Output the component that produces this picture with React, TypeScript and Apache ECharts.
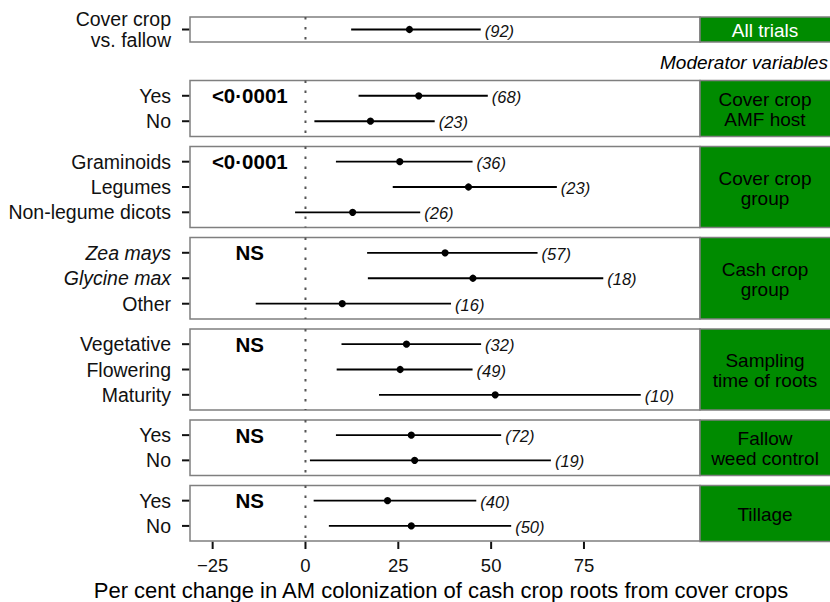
import React, { useEffect, useRef } from "react";
import * as echarts from "echarts";

// ---------- data ----------
const panelTitles = [
  "All trials",
  "Cover crop\nAMF host",
  "Cover crop\ngroup",
  "Cash crop\ngroup",
  "Sampling\ntime of roots",
  "Fallow\nweed control",
  "Tillage",
];
const rowLabels = [
  ["Cover crop\nvs. fallow"],
  ["Yes", "No"],
  ["Graminoids", "Legumes", "Non-legume dicots"],
  ["Zea mays", "Glycine max", "Other"],
  ["Vegetative", "Flowering", "Maturity"],
  ["Yes", "No"],
  ["Yes", "No"],
];
const italicLabels = ["Zea mays", "Glycine max"];
const pValues = ["", "<0·0001", "<0·0001", "NS", "NS", "NS", "NS"];
const means = [[28.0], [30.5, 17.5], [25.4, 43.9, 12.7], [37.6, 45.1, 9.9], [27.2, 25.5, 51.1], [28.5, 29.4], [22.1, 28.5]];
const lower = [[12.3], [14.3, 2.4], [8.2, 23.5, -2.8], [16.6, 16.8, -13.4], [9.7, 8.4, 19.8], [8.2, 1.2], [2.2, 6.3]];
const upper = [[47.2], [49.1, 34.8], [45.0, 67.7, 30.9], [62.5, 80.2, 39.2], [47.3, 45.0, 90.3], [52.7, 66.1], [46.0, 55.4]];
const trialCounts = [[92], [68, 23], [36, 23, 26], [57, 18, 16], [32, 49, 10], [72, 19], [40, 50]];
const xTicks = [-25, 0, 25, 50, 75];
const xTitle = "Per cent change in AM colonization of cash crop roots from cover crops";
const moderatorTitle = "Moderator variables";

// ---------- layout ----------
const FONT = '"Liberation Sans", Arial, Helvetica, sans-serif';
const X_MIN = -31.1;
const X_MAX = 106.25;
const PLOT_LEFT = 190;
const PLOT_RIGHT = 700;
const STRIP_RIGHT = 832;
const TICK_LEN = 8;
const panelTops = [17, 80.5, 146.5, 237.5, 329, 420, 485.5];
const panelBottoms = [42, 136.5, 227.5, 319, 410, 475.5, 541.5];
const P_LABEL_X = -15;
const BORDER = "#7f7f7f";
const GREEN = "#008B00";
const INK = "#111";

// the grids extend TICK_LEN px past the panel frame so tick marks are drawn inside them
const X_PER_PX = (X_MAX - X_MIN) / (PLOT_RIGHT - PLOT_LEFT);
const X_AXIS_MIN = X_MIN - TICK_LEN * X_PER_PX;

function yRange(n: number) {
  return n === 1 ? [-0.5, 0.5] : [-0.6, n - 0.4];
}

function buildOption() {
  const grids: any[] = [];
  const xAxes: any[] = [];
  const yAxes: any[] = [];
  const series: any[] = [];
  const graphics: any[] = [];
  const nPanels = panelTitles.length;

  for (let p = 0; p < nPanels; p++) {
    const n = rowLabels[p].length;
    const [yMin, yMax] = yRange(n);
    const top = panelTops[p];
    const height = panelBottoms[p] - top;
    const isLast = p === nPanels - 1;
    const rowsIdx = rowLabels[p].map((_, i) => i);
    const yPerPx = (yMax - yMin) / height;
    const yAxisMax = isLast ? yMax + TICK_LEN * yPerPx : yMax;
    const gridHeight = isLast ? height + TICK_LEN : height;

    grids.push({
      left: PLOT_LEFT - TICK_LEN,
      top,
      width: PLOT_RIGHT - PLOT_LEFT + TICK_LEN,
      height: gridHeight,
      show: false,
    });

    xAxes.push({
      type: "value",
      gridIndex: p,
      min: X_AXIS_MIN,
      max: X_MAX,
      show: isLast,
      splitLine: { show: false },
      axisLine: { show: false, onZero: false },
      axisTick: { show: false },
      axisLabel: {
        show: isLast,
        customValues: xTicks,
        margin: 7,
        fontSize: 18.5,
        fontFamily: FONT,
        color: INK,
        formatter: (v: number) => (v < 0 ? "\u2212" + Math.abs(v) : String(v)),
      },
      name: isLast ? xTitle : "",
      nameLocation: "middle",
      nameGap: 30,
      nameTextStyle: { fontSize: 22, fontFamily: FONT, color: "#000" },
    });

    yAxes.push({
      type: "value",
      gridIndex: p,
      inverse: true,
      min: yMin,
      max: yAxisMax,
      splitLine: { show: false },
      axisLine: { show: false, onZero: false },
      axisTick: { show: false },
      axisLabel: {
        show: true,
        customValues: rowsIdx,
        margin: 11,
        fontSize: 19.5,
        fontFamily: FONT,
        color: INK,
        lineHeight: 21,
        align: "right",
        formatter: (v: number) => {
          const lab = rowLabels[p][Math.round(v)] ?? "";
          return italicLabels.includes(lab) ? `{i|${lab}}` : lab;
        },
        rich: {
          i: { fontStyle: "italic", fontSize: 19.5, fontFamily: FONT, color: INK },
        },
      },
    });

    // panel frame
    series.push({
      type: "custom",
      xAxisIndex: p,
      yAxisIndex: p,
      clip: false,
      silent: true,
      z: 0,
      data: [[X_MIN, yMin, X_MAX, yMax]],
      renderItem: (params: any, api: any) => {
        const a = api.coord([api.value(0), api.value(1)]);
        const b = api.coord([api.value(2), api.value(3)]);
        return {
          type: "rect",
          shape: { x: a[0], y: a[1], width: b[0] - a[0], height: b[1] - a[1] },
          style: { fill: "#fff", stroke: BORDER, lineWidth: 1.5 },
        };
      },
    });

    // y tick marks (left of the frame)
    series.push({
      type: "custom",
      xAxisIndex: p,
      yAxisIndex: p,
      clip: false,
      silent: true,
      z: 5,
      data: rowsIdx.map((i) => [X_AXIS_MIN, X_MIN, i]),
      renderItem: (params: any, api: any) => {
        const a = api.coord([api.value(0), api.value(2)]);
        const b = api.coord([api.value(1), api.value(2)]);
        return {
          type: "line",
          shape: { x1: a[0], y1: a[1], x2: b[0] - 0.75, y2: b[1] },
          style: { stroke: INK, lineWidth: 2 },
        };
      },
    });

    // x tick marks (below the last frame)
    if (isLast) {
      series.push({
        type: "custom",
        xAxisIndex: p,
        yAxisIndex: p,
        clip: false,
        silent: true,
        z: 5,
        data: xTicks.map((v) => [v, yMax, yAxisMax]),
        renderItem: (params: any, api: any) => {
          const a = api.coord([api.value(0), api.value(1)]);
          const b = api.coord([api.value(0), api.value(2)]);
          return {
            type: "line",
            shape: { x1: a[0], y1: a[1] + 0.75, x2: b[0], y2: b[1] },
            style: { stroke: INK, lineWidth: 2 },
          };
        },
      });
    }

    // dotted zero line
    series.push({
      type: "line",
      xAxisIndex: p,
      yAxisIndex: p,
      data: [
        [0, yMin],
        [0, yMax],
      ],
      symbol: "none",
      silent: true,
      z: 1,
      lineStyle: { color: "#555", width: 2, type: [2.5, 7.5] },
    });

    // estimates with CIs
    series.push({
      type: "custom",
      xAxisIndex: p,
      yAxisIndex: p,
      z: 3,
      data: rowLabels[p].map((_, i) => [lower[p][i], means[p][i], upper[p][i], i, trialCounts[p][i]]),
      encode: { x: [0, 1, 2], y: 3 },
      renderItem: (params: any, api: any) => {
        const y = api.value(3);
        const lo = api.coord([api.value(0), y]);
        const mid = api.coord([api.value(1), y]);
        const hi = api.coord([api.value(2), y]);
        return {
          type: "group",
          children: [
            {
              type: "line",
              shape: { x1: lo[0], y1: lo[1], x2: hi[0], y2: hi[1] },
              style: { stroke: "#000", lineWidth: 1.8 },
            },
            {
              type: "circle",
              shape: { cx: mid[0], cy: mid[1], r: 3.6 },
              style: { fill: "#000" },
            },
            {
              type: "text",
              x: hi[0] + 4,
              y: hi[1] + 1,
              style: {
                text: "(" + api.value(4) + ")",
                fontSize: 16.5,
                fontStyle: "italic",
                fontFamily: FONT,
                fill: INK,
                align: "left",
                verticalAlign: "middle",
              },
            },
          ],
        };
      },
    });

    // p-value label
    if (pValues[p]) {
      series.push({
        type: "scatter",
        xAxisIndex: p,
        yAxisIndex: p,
        data: [[P_LABEL_X, 0]],
        symbolSize: 0,
        silent: true,
        z: 4,
        itemStyle: { opacity: 1 },
        label: {
          show: true,
          position: "inside",
          formatter: pValues[p],
          fontSize: 20.5,
          fontWeight: "bold",
          fontFamily: FONT,
          color: "#000",
          opacity: 1,
          textBorderWidth: 0,
          textBorderColor: "transparent",
        },
      });
    }

    // facet strip
    graphics.push({
      type: "rect",
      shape: { x: PLOT_RIGHT, y: top, width: STRIP_RIGHT - PLOT_RIGHT, height },
      style: { fill: GREEN, stroke: BORDER, lineWidth: 1.5 },
      z: 10,
    });
    graphics.push({
      type: "text",
      x: 765,
      y: top + height / 2 + 1,
      style: {
        text: panelTitles[p],
        fontSize: 19,
        fontFamily: FONT,
        fill: p === 0 ? "#fff" : "#000",
        align: "center",
        verticalAlign: "middle",
        lineHeight: 20,
      },
      z: 11,
    });
  }

  graphics.push({
    type: "text",
    x: 660,
    y: 62,
    style: {
      text: moderatorTitle,
      fontSize: 19,
      fontStyle: "italic",
      fontFamily: FONT,
      fill: "#000",
      align: "left",
      verticalAlign: "middle",
    },
    z: 11,
  });

  return {
    animation: false,
    backgroundColor: "#fff",
    grid: grids,
    xAxis: xAxes,
    yAxis: yAxes,
    series,
    graphic: { elements: graphics },
  };
}

export default function App() {
  const ref = useRef<HTMLDivElement>(null);
  useEffect(() => {
    document.body.style.margin = "0";
    const chart = echarts.init(ref.current!, null, { renderer: "svg" });
    chart.setOption(buildOption() as any);
    return () => chart.dispose();
  }, []);
  return <div ref={ref} style={{ width: 830, height: 602 }} />;
}
